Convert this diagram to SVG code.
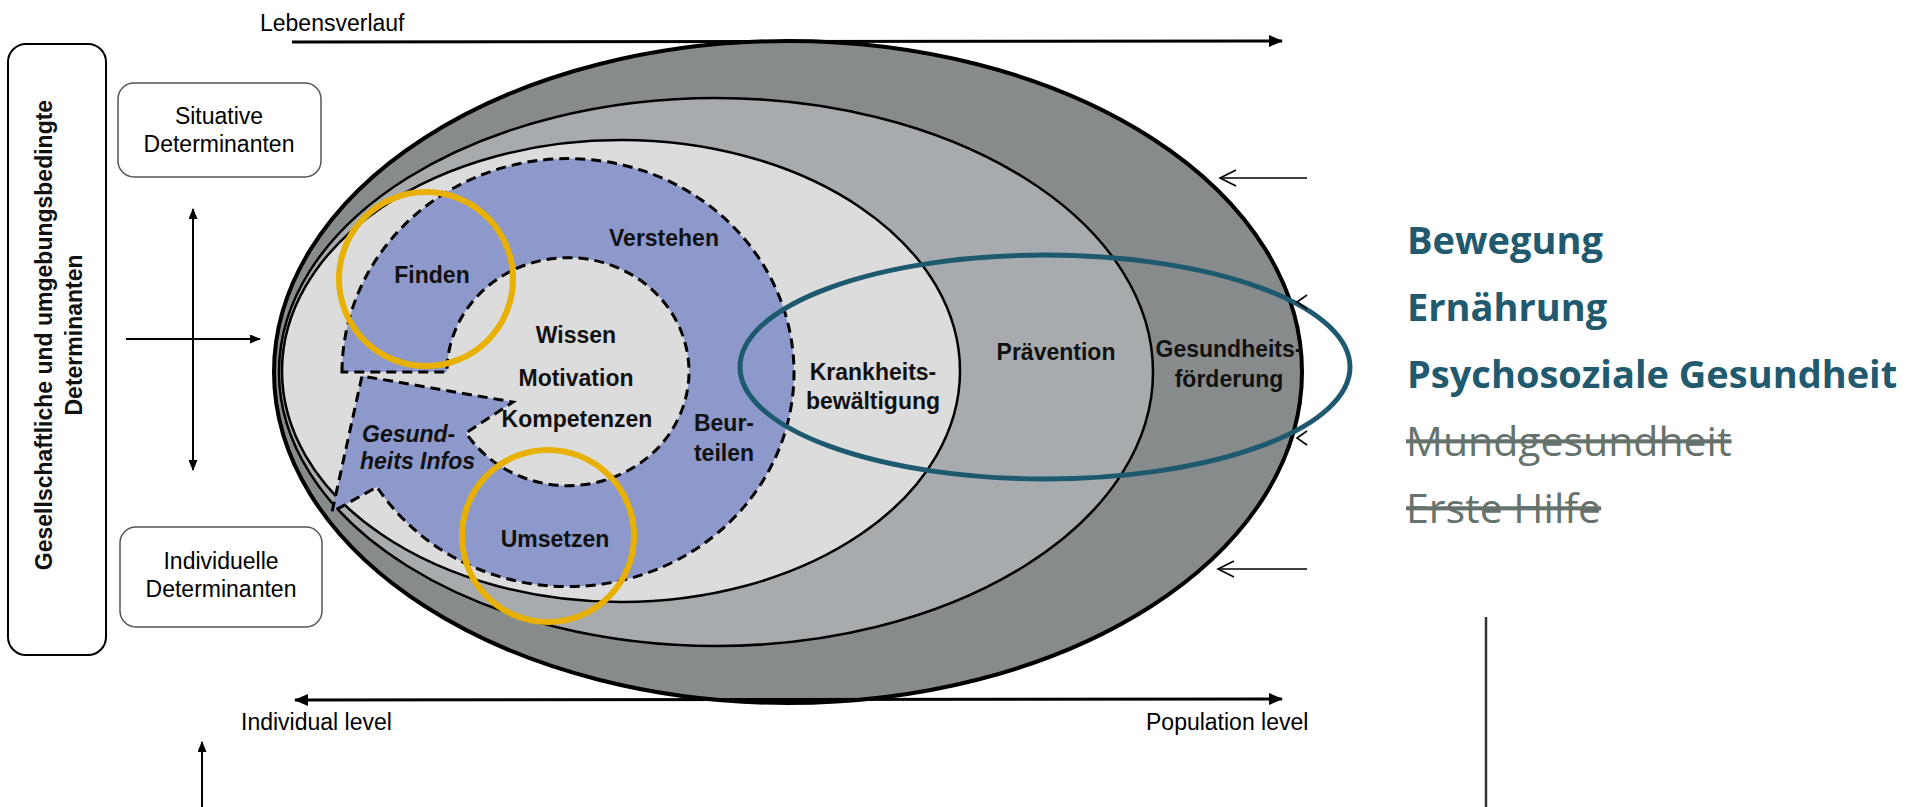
<svg xmlns="http://www.w3.org/2000/svg" width="1925" height="807" viewBox="0 0 1925 807">
<style>
.t { font-family: "Liberation Sans", Arial, sans-serif; font-size: 23px; fill: #000; }
.b { font-weight: bold; fill: #111; }
.i { font-style: italic; }
.m { text-anchor: middle; }
.box { fill: #fff; stroke: #555; stroke-width: 1.5; }
.ln { stroke: #000; fill: none; }
.gold { fill: none; stroke: #e8b000; stroke-width: 6; }
.r1 { font-family: "Open Sans", sans-serif; font-size: 38px; font-weight: bold; fill: #215a6e; }
.r2 { font-family: "Open Sans", sans-serif; font-size: 41px; fill: #66736c; text-decoration: line-through; }
.oa { fill: none; stroke: #000; stroke-width: 1.6; }
</style>
<defs>
<marker id="ah" viewBox="0 0 14 12" refX="13" refY="6" markerWidth="14" markerHeight="12" markerUnits="userSpaceOnUse" orient="auto-start-reverse">
<path d="M0,0 L14,6 L0,12 Z" fill="#000"/>
</marker>
<marker id="ahs" viewBox="0 0 11 9" refX="10" refY="4.5" markerWidth="11" markerHeight="9" markerUnits="userSpaceOnUse" orient="auto-start-reverse">
<path d="M0,0 L11,4.5 L0,9 Z" fill="#000"/>
</marker>
</defs>

<g id="rings">
<ellipse cx="788" cy="372" rx="514" ry="331" fill="#878b8c" stroke="#000" stroke-width="4"/>
<ellipse cx="716" cy="372" rx="437" ry="274" fill="#a7abad" stroke="#000" stroke-width="2.5"/>
<ellipse cx="621" cy="371" rx="339" ry="231" fill="#dcdcdc" stroke="#000" stroke-width="2.5"/>
</g>

<g id="cycle">
<path d="M342,372 A226,214 0 1 1 377,487 L332,512 L362,376 L513,402 L466,433 A121,114 0 1 0 447,372 Z" fill="#8d99cb" stroke="#000" stroke-width="3" stroke-dasharray="10 6"/>
</g>

<g id="labels-inner">
<text class="t b m" x="432" y="283">Finden</text>
<text class="t b m" x="664" y="246">Verstehen</text>
<text class="t b m" x="576" y="343">Wissen</text>
<text class="t b m" x="576" y="386">Motivation</text>
<text class="t b m" x="577" y="427">Kompetenzen</text>
<text class="t b m" x="724" y="431">Beur-</text>
<text class="t b m" x="724" y="461">teilen</text>
<text class="t b i" x="362" y="442">Gesund-</text>
<text class="t b i" x="360" y="469">heits Infos</text>
<text class="t b m" x="555" y="547">Umsetzen</text>
<text class="t b m" x="873" y="380">Krankheits-</text>
<text class="t b m" x="873" y="409">bewältigung</text>
<text class="t b m" x="1056" y="360">Prävention</text>
<text class="t b m" x="1229" y="357">Gesundheits-</text>
<text class="t b m" x="1229" y="387">förderung</text>
</g>

<g id="highlights">
<circle class="gold" cx="426" cy="279" r="87"/>
<circle class="gold" cx="548" cy="536" r="86"/>
<ellipse cx="1045" cy="367" rx="305" ry="112" fill="none" stroke="#1e5a6f" stroke-width="5"/>
</g>

<g id="left-box">
<rect x="8" y="44" width="98" height="611" rx="18" fill="#fff" stroke="#000" stroke-width="2"/>
<text class="t b m" transform="translate(52,335) rotate(-90)">Gesellschaftliche und umgebungsbedingte</text>
<text class="t b m" transform="translate(82,335) rotate(-90)">Determinanten</text>
</g>

<g id="situative">
<rect class="box" x="118" y="83" width="203" height="94" rx="16"/>
<text class="t m" x="219" y="124">Situative</text>
<text class="t m" x="219" y="152">Determinanten</text>
</g>

<g id="individuelle">
<rect class="box" x="120" y="527" width="202" height="100" rx="16"/>
<text class="t m" x="221" y="569">Individuelle</text>
<text class="t m" x="221" y="597">Determinanten</text>
</g>

<g id="axis-labels">
<text class="t" x="260" y="31">Lebensverlauf</text>
<text class="t" x="241" y="730">Individual level</text>
<text class="t" x="1146" y="730">Population level</text>
</g>

<g id="connectors">
<line class="ln" x1="292" y1="42" x2="1282" y2="41" stroke-width="3" marker-end="url(#ah)"/>
<line class="ln" x1="295" y1="700" x2="1282" y2="699" stroke-width="3" marker-start="url(#ah)" marker-end="url(#ah)"/>
<line class="ln" x1="193" y1="209" x2="193" y2="470" stroke-width="2" marker-start="url(#ahs)" marker-end="url(#ahs)"/>
<line class="ln" x1="126" y1="339" x2="260" y2="339" stroke-width="2" marker-end="url(#ahs)"/>
<line class="ln" x1="202" y1="807" x2="202" y2="742" stroke-width="2" marker-end="url(#ahs)"/>
<line class="oa" x1="1307" y1="178" x2="1220" y2="178"/>
<polyline class="oa" points="1236,170 1220,178 1236,186"/>
<line class="oa" x1="1307" y1="569" x2="1218" y2="569"/>
<polyline class="oa" points="1234,561 1218,569 1234,577"/>
<polyline class="oa" points="1307,295 1297,302 1307,309"/>
<polyline class="oa" points="1307,431 1297,438 1307,445"/>
</g>

<g id="topics">
<text class="r1" x="1407" y="254">Bewegung</text>
<text class="r1" x="1407" y="321">Ernährung</text>
<text class="r1" x="1407" y="388">Psychosoziale Gesundheit</text>
<text class="r2" x="1406" y="456">Mundgesundheit</text>
<text class="r2" x="1406" y="523">Erste Hilfe</text>
</g>

<line id="divider" x1="1486" y1="617" x2="1486" y2="807" stroke="#333" stroke-width="2.5"/>
</svg>
